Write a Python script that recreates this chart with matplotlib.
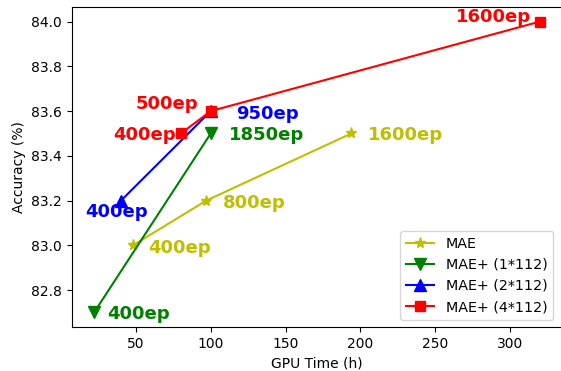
import matplotlib
matplotlib.use("Agg")
import matplotlib.pyplot as plt

mae_x = [48, 97, 194]
mae_y = [83.0, 83.2, 83.5]
mae_lbl = ["400ep", "800ep", "1600ep"]

m1_x = [22, 100]
m1_y = [82.7, 83.5]
m1_lbl = ["400ep", "1850ep"]

m2_x = [40, 100]
m2_y = [83.2, 83.6]
m2_lbl = ["400ep", "950ep"]

m4_x = [80, 100, 320]
m4_y = [83.5, 83.6, 84.0]
m4_lbl = ["400ep", "500ep", "1600ep"]

fig, ax = plt.subplots(figsize=(5.61, 3.71), dpi=100)
fig.subplots_adjust(left=0.128, right=1.002, top=0.981, bottom=0.1186)

ax.plot(mae_x, mae_y, color="y", marker="*", markersize=8, label="MAE")
ax.plot(m1_x, m1_y, color="g", marker="v", markersize=8, label="MAE+ (1*112)")
ax.plot(m2_x, m2_y, color="b", marker="^", markersize=8, label="MAE+ (2*112)")
ax.plot(m4_x, m4_y, color="r", marker="s", markersize=7, label="MAE+ (4*112)")
ax.spines["right"].set_visible(False)

fs = 13
kw = dict(fontsize=fs, fontweight="bold", va="center")
# yellow
ax.text(58, 82.99, mae_lbl[0], color="y", ha="left", **kw)
ax.text(108, 83.19, mae_lbl[1], color="y", ha="left", **kw)
ax.text(205, 83.495, mae_lbl[2], color="y", ha="left", **kw)
# green
ax.text(31, 82.695, m1_lbl[0], color="g", ha="left", **kw)
ax.text(112, 83.495, m1_lbl[1], color="g", ha="left", **kw)
# blue
ax.text(16, 83.15, m2_lbl[0], color="b", ha="left", **kw)
ax.text(117, 83.585, m2_lbl[1], color="b", ha="left", **kw)
# red
ax.text(35, 83.495, m4_lbl[0], color="r", ha="left", **kw)
ax.text(50, 83.63, m4_lbl[1], color="r", ha="left", **kw)
ax.text(314, 84.02, m4_lbl[2], color="r", ha="right", **kw)

ax.set_xlabel("GPU Time (h)")
ax.set_ylabel("Accuracy (%)")
ax.legend(loc="lower right", bbox_to_anchor=(0.997, 0.0), fontsize=10.3)

fig.savefig("out.png", dpi=100)
